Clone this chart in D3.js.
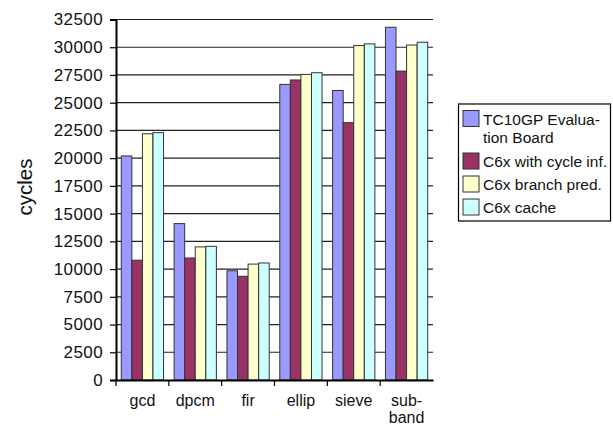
<!DOCTYPE html>
<html>
<head>
<meta charset="utf-8">
<script src="https://cdn.jsdelivr.net/npm/d3@7"></script>
<style>
  html, body { margin: 0; padding: 0; background: #fff; }
  svg { display: block; font-family: "Liberation Sans", Arial, sans-serif; }
</style>
</head>
<body>
<svg id="chart" width="613" height="427"></svg>
<script>
const categories = ["gcd", "dpcm", "fir", "ellip", "sieve", "sub-band"];
const seriesNames = ["TC10GP Evaluation Board", "C6x with cycle inf.", "C6x branch pred.", "C6x cache"];
const tc10gp   = [20200, 14100, 9850, 26650, 26100, 31800];
const c6xCycle = [10800, 11000, 9350, 27050, 23200, 27850];
const c6xBranch= [22200, 12000, 10450, 27550, 30150, 30200];
const c6xCache = [22300, 12050, 10550, 27700, 30300, 30450];
const yTicks = [0, 2500, 5000, 7500, 10000, 12500, 15000, 17500, 20000, 22500, 25000, 27500, 30000, 32500];
const categoryLines = [["gcd"], ["dpcm"], ["fir"], ["ellip"], ["sieve"], ["sub-", "band"]];
const legendLines = [["TC10GP Evalua-", "tion Board"], ["C6x with cycle inf."], ["C6x branch pred."], ["C6x cache"]];
const colors = ["#9999FF", "#993366", "#FFFFCC", "#CCFFFF"];

const seriesValues = [tc10gp, c6xCycle, c6xBranch, c6xCache];

const svg = d3.select("#chart");
const margin = {left: 116, top: 19.5, right: 613 - 433, bottom: 427 - 380};
const W = 613, H = 427;

const x0 = d3.scaleBand().domain(categories).range([margin.left, W - margin.right]).paddingInner(0).paddingOuter(0);
const x1 = d3.scaleBand().domain(d3.range(seriesNames.length)).range([0, x0.bandwidth()]).paddingInner(0).paddingOuter(0.5);
const y = d3.scaleLinear().domain([0, 32500]).range([H - margin.bottom, margin.top]);

// gridlines
svg.append("g").selectAll("line").data(yTicks.filter(d => d > 0)).join("line")
  .attr("x1", margin.left).attr("x2", W - margin.right)
  .attr("y1", d => y(d)).attr("y2", d => y(d))
  .attr("stroke", "#222").attr("stroke-width", 1.2);

// bars
const groups = svg.append("g").selectAll("g").data(categories).join("g")
  .attr("transform", d => `translate(${x0(d)},0)`);
groups.selectAll("rect").data((c, ci) => seriesValues.map((vals, si) => ({si, v: vals[ci]}))).join("rect")
  .attr("x", d => x1(d.si))
  .attr("y", d => y(d.v))
  .attr("width", x1.bandwidth())
  .attr("height", d => y(0) - y(d.v))
  .attr("fill", d => colors[d.si])
  .attr("stroke", "#333").attr("stroke-width", 1);

// y axis
const yAxis = d3.axisLeft(y).tickValues(yTicks).tickSize(6).tickPadding(7).tickFormat(d3.format("d"));
const gy = svg.append("g").attr("transform", `translate(${margin.left},0)`).call(yAxis);
gy.select(".domain").attr("stroke", "#000").attr("stroke-width", 2);
gy.selectAll(".tick line").attr("stroke", "#000").attr("stroke-width", 1.2);
gy.selectAll(".tick text").attr("font-size", 17).attr("fill", "#111")
  .attr("font-family", "'Liberation Sans', Arial, sans-serif").attr("letter-spacing", 0.4);

// x axis
const xAxis = d3.axisBottom(x0).tickSize(0).tickFormat("");
const gx = svg.append("g").attr("transform", `translate(0,${y(0)})`).call(xAxis);
gx.select(".domain").attr("stroke", "#000").attr("stroke-width", 2);
// boundary ticks
const bounds = categories.map(c => x0(c)).concat([x0(categories[categories.length - 1]) + x0.bandwidth()]);
svg.append("g").selectAll("line").data(bounds.slice(0, -1)).join("line")
  .attr("x1", d => d).attr("x2", d => d)
  .attr("y1", y(0)).attr("y2", y(0) + 6)
  .attr("stroke", "#000").attr("stroke-width", 1.2);

// category labels
const cl = svg.append("g").selectAll("text").data(categories).join("text")
  .attr("x", d => x0(d) + x0.bandwidth() / 2)
  .attr("y", y(0) + 25.5)
  .attr("text-anchor", "middle").attr("font-size", 16).attr("fill", "#111");
cl.each(function(d, i) {
  const t = d3.select(this);
  categoryLines[i].forEach((ln, j) => {
    t.append("tspan").attr("x", x0(d) + x0.bandwidth() / 2).attr("dy", j === 0 ? 0 : 17).text(ln);
  });
});

// y title
svg.append("text")
  .attr("transform", `translate(32,187) rotate(-90)`)
  .attr("text-anchor", "middle").attr("font-size", 20.5).attr("fill", "#111")
  .text("cycles");

// legend
const lg = svg.append("g");
lg.append("rect").attr("x", 458.5).attr("y", 104).attr("width", 152).attr("height", 117)
  .attr("fill", "#fff").attr("stroke", "#000").attr("stroke-width", 1.2);
const rowY = [110.5, 153, 176, 199];
seriesNames.forEach((s, i) => {
  lg.append("rect").attr("x", 463).attr("y", rowY[i]).attr("width", 16).attr("height", 16)
    .attr("fill", colors[i]).attr("stroke", "#333").attr("stroke-width", 1);
  const t = lg.append("text").attr("x", 483).attr("y", rowY[i] + 14).attr("font-size", 15.5).attr("fill", "#111");
  legendLines[i].forEach((ln, j) => {
    t.append("tspan").attr("x", 483).attr("dy", j === 0 ? 0 : 18).text(ln);
  });
});
</script>
</body>
</html>
